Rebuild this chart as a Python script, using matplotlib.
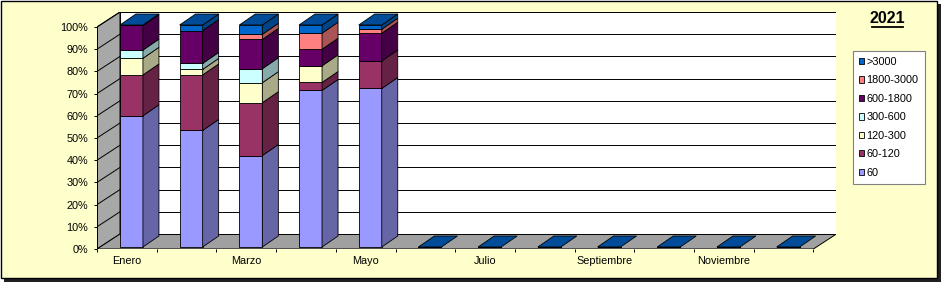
import numpy as np
import matplotlib
matplotlib.use("Agg")
import matplotlib.pyplot as plt
from matplotlib.patches import Polygon, Rectangle
from matplotlib.lines import Line2D

plt.rcParams['font.family'] = ['Liberation Sans', 'DejaVu Sans']

# datos (% por mes, solo enero-mayo)
meses = ["Enero", "Febrero", "Marzo", "Abril", "Mayo", "Junio", "Julio",
         "Agosto", "Septiembre", "Octubre", "Noviembre", "Diciembre"]
rangos = ["60", "60-120", "120-300", "300-600", "600-1800", "1800-3000", ">3000"]
v60 = [59.1, 52.5, 41.2, 70.5, 71.4, 0, 0, 0, 0, 0, 0, 0]
v60_120 = [18.4, 25.0, 23.8, 3.6, 12.4, 0, 0, 0, 0, 0, 0, 0]
v120_300 = [7.5, 2.5, 9.0, 7.5, 0, 0, 0, 0, 0, 0, 0, 0]
v300_600 = [3.7, 2.7, 6.3, 0, 0, 0, 0, 0, 0, 0, 0, 0]
v600_1800 = [11.1, 14.8, 13.2, 7.5, 12.5, 0, 0, 0, 0, 0, 0, 0]
v1800_3000 = [0, 0, 2.3, 7.2, 1.8, 0, 0, 0, 0, 0, 0, 0]
v3000 = [0.2, 2.5, 4.2, 3.7, 1.9, 0, 0, 0, 0, 0, 0, 0]
series = [v60, v60_120, v120_300, v300_600, v600_1800, v1800_3000, v3000]

frente = ["#9999FF", "#993366", "#FFFFCC", "#CCFFFF", "#660066", "#FF8080", "#0066CC"]
lado = ["#6666A6", "#662244", "#AAAA88", "#88AAAA", "#440044", "#AA5555", "#004488"]
tapa = "#004C99"

# geometria "3d" (pixeles -> datos)
W, H = 945, 282
CAT_PX, PCT_PX = 59.7, 2.22
DX, DY = 23 / CAT_PX, 15 / PCT_PX        # profundidad de las paredes
BW = 0.385                               # ancho barra
BX0, BY0 = 0.077, 0.9                    # desplazamiento del frente de la barra
BDX, BDY = 0.268, 4.95                   # profundidad de la barra
FS = 7.8

fig = plt.figure(figsize=(W / 100, H / 100), dpi=100)
fig.patch.set_facecolor("white")

# marco con sombra
fig.patches.append(Rectangle((4 / W, 0), 937 / W, 278 / H, transform=fig.transFigure,
                             facecolor="#202020", edgecolor="none", zorder=-3))
fig.patches.append(Rectangle((0.5 / W, 4 / H), 937 / W, 277 / H, transform=fig.transFigure,
                             facecolor="#FFFFCC", edgecolor="black", lw=1, zorder=-2))

x0, y0 = 97, 249
xmax = 11.5 + DX
ymax = 100 + DY
ax = fig.add_axes([x0 / W, (H - y0) / H, (xmax + 0.5) * CAT_PX / W, ymax * PCT_PX / H])
ax.set_xlim(-0.5, xmax)
ax.set_ylim(0, ymax)
ax.patch.set_alpha(0)
for s in ax.spines.values():
    s.set_visible(False)

lw = 0.7
# paredes
ax.add_patch(Polygon([(-0.5, 0), (-0.5 + DX, DY), (-0.5 + DX, 100 + DY), (-0.5, 100)],
                     facecolor="#A8A8A8", edgecolor="black", lw=lw))
ax.add_patch(Polygon([(-0.5, 0), (11.5, 0), (11.5 + DX, DY), (-0.5 + DX, DY)],
                     facecolor="#A0A0A0", edgecolor="black", lw=lw))
ax.add_patch(Rectangle((-0.5 + DX, DY), 12, 100, facecolor="white", edgecolor="black", lw=lw))
for v in range(10, 101, 10):
    ax.plot([-0.5 + DX, 11.5 + DX], [v + DY, v + DY], color="black", lw=lw)
    ax.plot([-0.5, -0.5 + DX], [v, v + DY], color="black", lw=lw)
ax.plot([-0.5, -0.5], [0, 100], color="black", lw=lw)

# barras
x = np.arange(len(meses))
base = np.zeros(len(meses))
for k, vals in enumerate(series):
    vals = np.array(vals)
    ax.bar(x + BX0, vals, BW, bottom=base + BY0, color=frente[k],
           edgecolor="black", lw=0.6, zorder=3)
    for i in x:
        if vals[i] <= 0:
            continue
        xr = i + BX0 + BW / 2
        b = base[i] + BY0
        ax.add_patch(Polygon([(xr, b), (xr + BDX, b + BDY), (xr + BDX, b + vals[i] + BDY),
                              (xr, b + vals[i])], facecolor=lado[k], edgecolor="black",
                             lw=0.6, zorder=3))
    base = base + vals
for i in x:
    xl = i + BX0 - BW / 2
    xr = i + BX0 + BW / 2
    t = base[i] + BY0
    ax.add_patch(Polygon([(xl, t), (xr, t), (xr + BDX, t + BDY), (xl + BDX, t + BDY)],
                         facecolor=tapa, edgecolor="black", lw=0.6, zorder=3))

# ejes
ax.set_yticks(range(0, 101, 10), [f"{v}%" for v in range(0, 101, 10)])
ax.set_xticks(x[::2], meses[::2])
ax.set_xticks(np.arange(-0.5, 12, 1), minor=True)
ax.tick_params(axis="y", length=2.5, width=0.7, pad=4, labelsize=FS)
ax.tick_params(axis="x", which="major", length=0, pad=5, labelsize=FS)
ax.tick_params(axis="x", which="minor", length=2.5, width=0.7)

# leyenda
handles = [Rectangle((0, 0), 1, 1, facecolor=frente[k], edgecolor="black", lw=0.6)
           for k in range(len(rangos))][::-1]
leg = fig.legend(handles, rangos[::-1], loc="upper left",
                 bbox_to_anchor=(853 / W, 1 - 51 / H), fontsize=FS,
                 handlelength=0.5, handleheight=0.5, handletextpad=0.2,
                 labelspacing=0.78, borderpad=0.55, borderaxespad=0,
                 fancybox=False, framealpha=1)
leg.get_frame().set_edgecolor("#808080")
leg.get_frame().set_linewidth(0.8)

# titulo
fig.text(887.5 / W, 1 - 18.5 / H, "2021", ha="center", va="center",
         fontsize=11.5, fontweight="bold")
fig.lines.append(Line2D([872 / W, 903 / W], [1 - 27.5 / H, 1 - 27.5 / H],
                        transform=fig.transFigure, color="black", lw=1.3))

fig.savefig("out.png", dpi=100)
